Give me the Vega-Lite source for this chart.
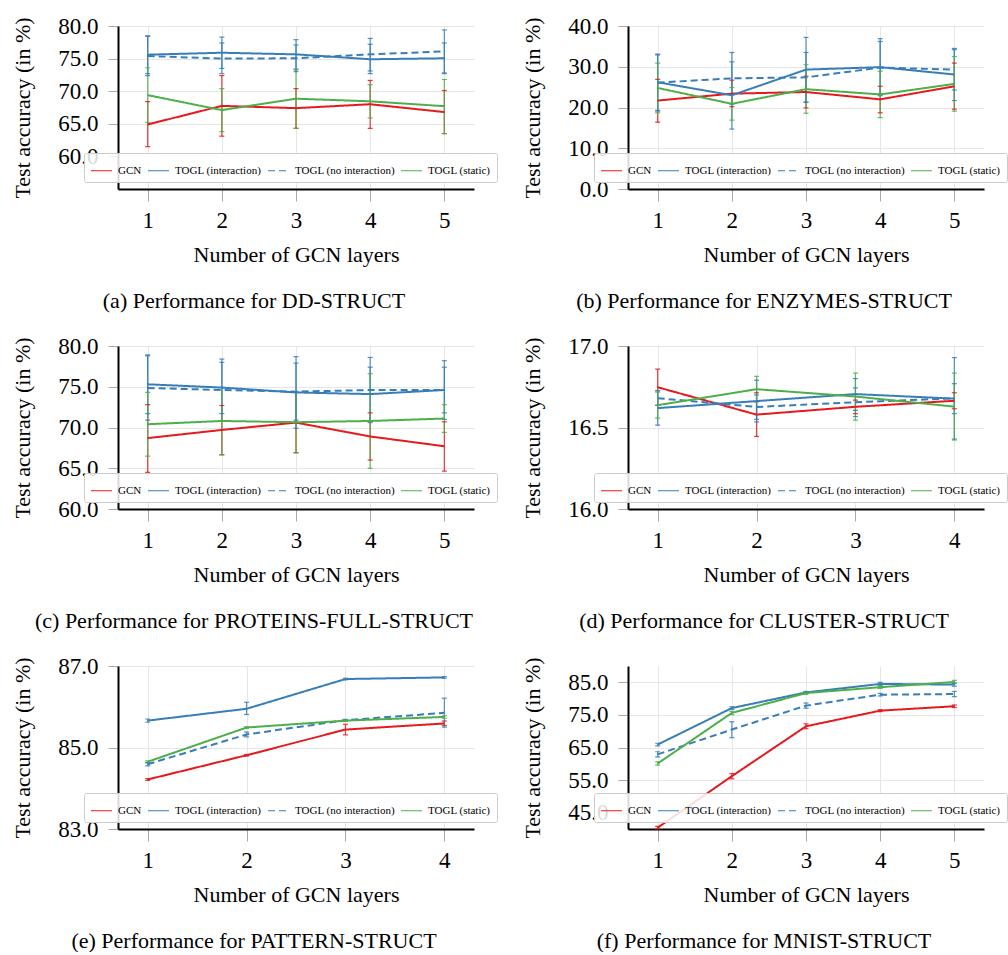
{
"$schema": "https://vega.github.io/schema/vega-lite/v6.json",
"background": "white",
"padding": {"left": 11, "top": 15, "right": 0, "bottom": 0},
"columns": 2,
"bounds": "flush",
"spacing": {"row": 157, "column": 154},
"datasets": {
"dd": [
{"n":1,"s":"GCN","m":64.9,"lo":61.5,"hi":68.4},{"n":2,"s":"GCN","m":67.75,"lo":63.1,"hi":72.4},{"n":3,"s":"GCN","m":67.4,"lo":64.3,"hi":70.4},{"n":4,"s":"GCN","m":68.0,"lo":64.3,"hi":71.65},{"n":5,"s":"GCN","m":66.8,"lo":63.5,"hi":70.1},
{"n":1,"s":"TOGL (interaction)","m":75.6,"lo":72.7,"hi":78.5},{"n":2,"s":"TOGL (interaction)","m":75.9,"lo":73.5,"hi":78.3},{"n":3,"s":"TOGL (interaction)","m":75.65,"lo":73.3,"hi":77.9},{"n":4,"s":"TOGL (interaction)","m":74.9,"lo":72.7,"hi":77.2},{"n":5,"s":"TOGL (interaction)","m":75.05,"lo":72.7,"hi":77.4},
{"n":1,"s":"TOGL (no interaction)","m":75.4,"lo":72.4,"hi":78.4},{"n":2,"s":"TOGL (no interaction)","m":75.0,"lo":72.7,"hi":77.4},{"n":3,"s":"TOGL (no interaction)","m":75.05,"lo":73.0,"hi":77.1},{"n":4,"s":"TOGL (no interaction)","m":75.65,"lo":73.1,"hi":78.1},{"n":5,"s":"TOGL (no interaction)","m":76.1,"lo":72.8,"hi":79.4},
{"n":1,"s":"TOGL (static)","m":69.4,"lo":65.2,"hi":73.6},{"n":2,"s":"TOGL (static)","m":67.1,"lo":63.8,"hi":70.4},{"n":3,"s":"TOGL (static)","m":68.85,"lo":64.3,"hi":73.4},{"n":4,"s":"TOGL (static)","m":68.45,"lo":65.9,"hi":71.0},{"n":5,"s":"TOGL (static)","m":67.7,"lo":63.5,"hi":71.8}
],
"enz": [
{"n":1,"s":"GCN","m":21.7,"lo":16.4,"hi":26.9},{"n":2,"s":"GCN","m":23.4,"lo":20.2,"hi":26.7},{"n":3,"s":"GCN","m":23.8,"lo":19.9,"hi":27.7},{"n":4,"s":"GCN","m":22.0,"lo":18.7,"hi":25.2},{"n":5,"s":"GCN","m":25.2,"lo":19.6,"hi":30.9},
{"n":1,"s":"TOGL (interaction)","m":26.2,"lo":19.3,"hi":33.1},{"n":2,"s":"TOGL (interaction)","m":23.0,"lo":14.7,"hi":31.2},{"n":3,"s":"TOGL (interaction)","m":29.3,"lo":21.3,"hi":37.2},{"n":4,"s":"TOGL (interaction)","m":29.9,"lo":22.9,"hi":36.9},{"n":5,"s":"TOGL (interaction)","m":28.1,"lo":21.7,"hi":34.5},
{"n":1,"s":"TOGL (no interaction)","m":26.1,"lo":19.1,"hi":32.9},{"n":2,"s":"TOGL (no interaction)","m":27.15,"lo":20.8,"hi":33.5},{"n":3,"s":"TOGL (no interaction)","m":27.4,"lo":21.3,"hi":33.5},{"n":4,"s":"TOGL (no interaction)","m":29.8,"lo":23.4,"hi":36.2},{"n":5,"s":"TOGL (no interaction)","m":29.3,"lo":24.3,"hi":34.2},
{"n":1,"s":"TOGL (static)","m":24.8,"lo":18.7,"hi":30.9},{"n":2,"s":"TOGL (static)","m":20.9,"lo":16.9,"hi":24.9},{"n":3,"s":"TOGL (static)","m":24.5,"lo":18.6,"hi":30.5},{"n":4,"s":"TOGL (static)","m":23.2,"lo":17.5,"hi":28.9},{"n":5,"s":"TOGL (static)","m":25.8,"lo":19.1,"hi":32.5}
],
"prot": [
{"n":1,"s":"GCN","m":68.7,"lo":64.5,"hi":72.8},{"n":2,"s":"GCN","m":69.7,"lo":66.65,"hi":72.7},{"n":3,"s":"GCN","m":70.6,"lo":66.9,"hi":74.3},{"n":4,"s":"GCN","m":68.9,"lo":66.0,"hi":71.8},{"n":5,"s":"GCN","m":67.7,"lo":64.65,"hi":70.7},
{"n":1,"s":"TOGL (interaction)","m":75.3,"lo":71.7,"hi":78.9},{"n":2,"s":"TOGL (interaction)","m":74.9,"lo":71.7,"hi":78.0},{"n":3,"s":"TOGL (interaction)","m":74.3,"lo":69.9,"hi":78.7},{"n":4,"s":"TOGL (interaction)","m":74.1,"lo":70.8,"hi":77.4},{"n":5,"s":"TOGL (interaction)","m":74.6,"lo":71.0,"hi":78.2},
{"n":1,"s":"TOGL (no interaction)","m":74.85,"lo":70.9,"hi":78.8},{"n":2,"s":"TOGL (no interaction)","m":74.6,"lo":70.8,"hi":78.4},{"n":3,"s":"TOGL (no interaction)","m":74.4,"lo":70.9,"hi":77.9},{"n":4,"s":"TOGL (no interaction)","m":74.6,"lo":70.6,"hi":78.6},{"n":5,"s":"TOGL (no interaction)","m":74.6,"lo":71.8,"hi":77.4},
{"n":1,"s":"TOGL (static)","m":70.4,"lo":66.5,"hi":74.3},{"n":2,"s":"TOGL (static)","m":70.8,"lo":66.65,"hi":74.9},{"n":3,"s":"TOGL (static)","m":70.65,"lo":66.9,"hi":74.4},{"n":4,"s":"TOGL (static)","m":70.8,"lo":65.0,"hi":76.6},{"n":5,"s":"TOGL (static)","m":71.1,"lo":69.4,"hi":72.8}
],
"clus": [
{"n":1,"s":"GCN","m":16.747,"lo":16.636,"hi":16.858},{"n":2,"s":"GCN","m":16.579,"lo":16.445,"hi":16.713},{"n":3,"s":"GCN","m":16.627,"lo":16.585,"hi":16.668},{"n":4,"s":"GCN","m":16.664,"lo":16.615,"hi":16.713},
{"n":1,"s":"TOGL (interaction)","m":16.619,"lo":16.514,"hi":16.724},{"n":2,"s":"TOGL (interaction)","m":16.662,"lo":16.534,"hi":16.79},{"n":3,"s":"TOGL (interaction)","m":16.705,"lo":16.605,"hi":16.8},{"n":4,"s":"TOGL (interaction)","m":16.677,"lo":16.585,"hi":16.769},
{"n":1,"s":"TOGL (no interaction)","m":16.68,"lo":16.636,"hi":16.727},{"n":2,"s":"TOGL (no interaction)","m":16.626,"lo":16.55,"hi":16.7},{"n":3,"s":"TOGL (no interaction)","m":16.655,"lo":16.567,"hi":16.743},{"n":4,"s":"TOGL (no interaction)","m":16.679,"lo":16.429,"hi":16.929},
{"n":1,"s":"TOGL (static)","m":16.637,"lo":16.557,"hi":16.717},{"n":2,"s":"TOGL (static)","m":16.735,"lo":16.656,"hi":16.814},{"n":3,"s":"TOGL (static)","m":16.69,"lo":16.545,"hi":16.834},{"n":4,"s":"TOGL (static)","m":16.628,"lo":16.423,"hi":16.834}
],
"patt": [
{"n":1,"s":"GCN","m":84.215,"lo":84.195,"hi":84.235},{"n":2,"s":"GCN","m":84.81,"lo":84.79,"hi":84.83},{"n":3,"s":"GCN","m":85.44,"lo":85.31,"hi":85.57},{"n":4,"s":"GCN","m":85.59,"lo":85.54,"hi":85.65},
{"n":1,"s":"TOGL (interaction)","m":85.66,"lo":85.62,"hi":85.7},{"n":2,"s":"TOGL (interaction)","m":85.95,"lo":85.81,"hi":86.11},{"n":3,"s":"TOGL (interaction)","m":86.68,"lo":86.66,"hi":86.7},{"n":4,"s":"TOGL (interaction)","m":86.72,"lo":86.7,"hi":86.74},
{"n":1,"s":"TOGL (no interaction)","m":84.59,"lo":84.55,"hi":84.63},{"n":2,"s":"TOGL (no interaction)","m":85.32,"lo":85.26,"hi":85.38},{"n":3,"s":"TOGL (no interaction)","m":85.67,"lo":85.65,"hi":85.69},{"n":4,"s":"TOGL (no interaction)","m":85.85,"lo":85.5,"hi":86.21},
{"n":1,"s":"TOGL (static)","m":84.65,"lo":84.63,"hi":84.67},{"n":2,"s":"TOGL (static)","m":85.49,"lo":85.47,"hi":85.51},{"n":3,"s":"TOGL (static)","m":85.66,"lo":85.64,"hi":85.68},{"n":4,"s":"TOGL (static)","m":85.75,"lo":85.72,"hi":85.78}
],
"mnist": [
{"n":1,"s":"GCN","m":40.4,"lo":40.0,"hi":40.8},{"n":2,"s":"GCN","m":56.2,"lo":55.4,"hi":57.0},{"n":3,"s":"GCN","m":71.5,"lo":70.75,"hi":72.25},{"n":4,"s":"GCN","m":76.3,"lo":76.0,"hi":76.6},{"n":5,"s":"GCN","m":77.65,"lo":77.25,"hi":78.05},
{"n":1,"s":"TOGL (interaction)","m":65.9,"lo":65.5,"hi":66.3},{"n":2,"s":"TOGL (interaction)","m":77.1,"lo":76.7,"hi":77.5},{"n":3,"s":"TOGL (interaction)","m":81.9,"lo":81.6,"hi":82.2},{"n":4,"s":"TOGL (interaction)","m":84.5,"lo":84.0,"hi":85.0},{"n":5,"s":"TOGL (interaction)","m":84.3,"lo":83.8,"hi":84.8},
{"n":1,"s":"TOGL (no interaction)","m":62.9,"lo":62.1,"hi":63.7},{"n":2,"s":"TOGL (no interaction)","m":70.5,"lo":68.0,"hi":72.9},{"n":3,"s":"TOGL (no interaction)","m":77.85,"lo":77.05,"hi":78.65},{"n":4,"s":"TOGL (no interaction)","m":81.2,"lo":80.8,"hi":81.6},{"n":5,"s":"TOGL (no interaction)","m":81.4,"lo":80.6,"hi":82.2},
{"n":1,"s":"TOGL (static)","m":60.1,"lo":59.6,"hi":60.6},{"n":2,"s":"TOGL (static)","m":75.6,"lo":75.1,"hi":76.1},{"n":3,"s":"TOGL (static)","m":81.7,"lo":81.3,"hi":82.1},{"n":4,"s":"TOGL (static)","m":83.5,"lo":83.1,"hi":83.9},{"n":5,"s":"TOGL (static)","m":85.1,"lo":84.6,"hi":85.6}
]
},
"concat": [
{
"width": 356, "height": 163, "data": {"name": "dd"},
"title": {"text": "(a) Performance for DD-STRUCT"},
"encoding": {
"x": {"field": "n", "type": "quantitative", "scale": {"domain": [0.6, 5.4]}, "axis": {"values": [1,2,3,4,5], "format": "d"}, "title": "Number of GCN layers"},
"color": {"field": "s", "type": "nominal", "scale": {"domain": ["GCN","TOGL (interaction)","TOGL (no interaction)","TOGL (static)"], "range": ["#e41a1c","#377eb8","#377eb8","#4daf4a"]}, "legend": {"orient": "none", "legendX": -34, "legendY": 127, "direction": "horizontal", "columns": 4, "title": null}}
},
"layer": [
{"mark": {"type": "rule"}, "encoding": {"y": {"field": "lo", "type": "quantitative", "scale": {"domain": [55, 80]}, "axis": {"values": [60,65,70,75,80], "format": ".1f"}, "title": "Test accuracy (in %)"}, "y2": {"field": "hi"}}},
{"mark": {"type": "tick", "orient": "horizontal"}, "encoding": {"y": {"field": "lo", "type": "quantitative", "scale": {"domain": [55, 80]}, "title": "Test accuracy (in %)"}}},
{"mark": {"type": "tick", "orient": "horizontal"}, "encoding": {"y": {"field": "hi", "type": "quantitative", "scale": {"domain": [55, 80]}, "title": "Test accuracy (in %)"}}},
{"mark": {"type": "line"}, "encoding": {"y": {"field": "m", "type": "quantitative", "scale": {"domain": [55, 80]}, "title": "Test accuracy (in %)"}, "strokeDash": {"field": "s", "type": "nominal", "scale": {"domain": ["GCN","TOGL (interaction)","TOGL (no interaction)","TOGL (static)"], "range": [[1,0],[1,0],[7,4],[1,0]]}, "legend": {"orient": "none", "legendX": -34, "legendY": 127, "direction": "horizontal", "columns": 4, "title": null}}}}
]
},
{
"width": 356, "height": 163, "data": {"name": "enz"},
"title": {"text": "(b) Performance for ENZYMES-STRUCT"},
"encoding": {
"x": {"field": "n", "type": "quantitative", "scale": {"domain": [0.6, 5.4]}, "axis": {"values": [1,2,3,4,5], "format": "d"}, "title": "Number of GCN layers"},
"color": {"field": "s", "type": "nominal", "scale": {"domain": ["GCN","TOGL (interaction)","TOGL (no interaction)","TOGL (static)"], "range": ["#e41a1c","#377eb8","#377eb8","#4daf4a"]}, "legend": {"orient": "none", "legendX": -34, "legendY": 127, "direction": "horizontal", "columns": 4, "title": null}}
},
"layer": [
{"mark": {"type": "rule"}, "encoding": {"y": {"field": "lo", "type": "quantitative", "scale": {"domain": [0, 40]}, "axis": {"values": [0,10,20,30,40], "format": ".1f"}, "title": "Test accuracy (in %)"}, "y2": {"field": "hi"}}},
{"mark": {"type": "tick", "orient": "horizontal"}, "encoding": {"y": {"field": "lo", "type": "quantitative", "scale": {"domain": [0, 40]}, "title": "Test accuracy (in %)"}}},
{"mark": {"type": "tick", "orient": "horizontal"}, "encoding": {"y": {"field": "hi", "type": "quantitative", "scale": {"domain": [0, 40]}, "title": "Test accuracy (in %)"}}},
{"mark": {"type": "line"}, "encoding": {"y": {"field": "m", "type": "quantitative", "scale": {"domain": [0, 40]}, "title": "Test accuracy (in %)"}, "strokeDash": {"field": "s", "type": "nominal", "scale": {"domain": ["GCN","TOGL (interaction)","TOGL (no interaction)","TOGL (static)"], "range": [[1,0],[1,0],[7,4],[1,0]]}, "legend": {"orient": "none", "legendX": -34, "legendY": 127, "direction": "horizontal", "columns": 4, "title": null}}}}
]
},
{
"width": 356, "height": 163, "data": {"name": "prot"},
"title": {"text": "(c) Performance for PROTEINS-FULL-STRUCT"},
"encoding": {
"x": {"field": "n", "type": "quantitative", "scale": {"domain": [0.6, 5.4]}, "axis": {"values": [1,2,3,4,5], "format": "d"}, "title": "Number of GCN layers"},
"color": {"field": "s", "type": "nominal", "scale": {"domain": ["GCN","TOGL (interaction)","TOGL (no interaction)","TOGL (static)"], "range": ["#e41a1c","#377eb8","#377eb8","#4daf4a"]}, "legend": {"orient": "none", "legendX": -34, "legendY": 127, "direction": "horizontal", "columns": 4, "title": null}}
},
"layer": [
{"mark": {"type": "rule"}, "encoding": {"y": {"field": "lo", "type": "quantitative", "scale": {"domain": [60, 80]}, "axis": {"values": [60,65,70,75,80], "format": ".1f"}, "title": "Test accuracy (in %)"}, "y2": {"field": "hi"}}},
{"mark": {"type": "tick", "orient": "horizontal"}, "encoding": {"y": {"field": "lo", "type": "quantitative", "scale": {"domain": [60, 80]}, "title": "Test accuracy (in %)"}}},
{"mark": {"type": "tick", "orient": "horizontal"}, "encoding": {"y": {"field": "hi", "type": "quantitative", "scale": {"domain": [60, 80]}, "title": "Test accuracy (in %)"}}},
{"mark": {"type": "line"}, "encoding": {"y": {"field": "m", "type": "quantitative", "scale": {"domain": [60, 80]}, "title": "Test accuracy (in %)"}, "strokeDash": {"field": "s", "type": "nominal", "scale": {"domain": ["GCN","TOGL (interaction)","TOGL (no interaction)","TOGL (static)"], "range": [[1,0],[1,0],[7,4],[1,0]]}, "legend": {"orient": "none", "legendX": -34, "legendY": 127, "direction": "horizontal", "columns": 4, "title": null}}}}
]
},
{
"width": 356, "height": 163, "data": {"name": "clus"},
"title": {"text": "(d) Performance for CLUSTER-STRUCT"},
"encoding": {
"x": {"field": "n", "type": "quantitative", "scale": {"domain": [0.7, 4.3]}, "axis": {"values": [1,2,3,4], "format": "d"}, "title": "Number of GCN layers"},
"color": {"field": "s", "type": "nominal", "scale": {"domain": ["GCN","TOGL (interaction)","TOGL (no interaction)","TOGL (static)"], "range": ["#e41a1c","#377eb8","#377eb8","#4daf4a"]}, "legend": {"orient": "none", "legendX": -34, "legendY": 127, "direction": "horizontal", "columns": 4, "title": null}}
},
"layer": [
{"mark": {"type": "rule"}, "encoding": {"y": {"field": "lo", "type": "quantitative", "scale": {"domain": [16, 17]}, "axis": {"values": [16,16.5,17], "format": ".1f"}, "title": "Test accuracy (in %)"}, "y2": {"field": "hi"}}},
{"mark": {"type": "tick", "orient": "horizontal"}, "encoding": {"y": {"field": "lo", "type": "quantitative", "scale": {"domain": [16, 17]}, "title": "Test accuracy (in %)"}}},
{"mark": {"type": "tick", "orient": "horizontal"}, "encoding": {"y": {"field": "hi", "type": "quantitative", "scale": {"domain": [16, 17]}, "title": "Test accuracy (in %)"}}},
{"mark": {"type": "line"}, "encoding": {"y": {"field": "m", "type": "quantitative", "scale": {"domain": [16, 17]}, "title": "Test accuracy (in %)"}, "strokeDash": {"field": "s", "type": "nominal", "scale": {"domain": ["GCN","TOGL (interaction)","TOGL (no interaction)","TOGL (static)"], "range": [[1,0],[1,0],[7,4],[1,0]]}, "legend": {"orient": "none", "legendX": -34, "legendY": 127, "direction": "horizontal", "columns": 4, "title": null}}}}
]
},
{
"width": 356, "height": 163, "data": {"name": "patt"},
"title": {"text": "(e) Performance for PATTERN-STRUCT"},
"encoding": {
"x": {"field": "n", "type": "quantitative", "scale": {"domain": [0.7, 4.3]}, "axis": {"values": [1,2,3,4], "format": "d"}, "title": "Number of GCN layers"},
"color": {"field": "s", "type": "nominal", "scale": {"domain": ["GCN","TOGL (interaction)","TOGL (no interaction)","TOGL (static)"], "range": ["#e41a1c","#377eb8","#377eb8","#4daf4a"]}, "legend": {"orient": "none", "legendX": -34, "legendY": 127, "direction": "horizontal", "columns": 4, "title": null}}
},
"layer": [
{"mark": {"type": "rule"}, "encoding": {"y": {"field": "lo", "type": "quantitative", "scale": {"domain": [83, 87]}, "axis": {"values": [83,85,87], "format": ".1f"}, "title": "Test accuracy (in %)"}, "y2": {"field": "hi"}}},
{"mark": {"type": "tick", "orient": "horizontal"}, "encoding": {"y": {"field": "lo", "type": "quantitative", "scale": {"domain": [83, 87]}, "title": "Test accuracy (in %)"}}},
{"mark": {"type": "tick", "orient": "horizontal"}, "encoding": {"y": {"field": "hi", "type": "quantitative", "scale": {"domain": [83, 87]}, "title": "Test accuracy (in %)"}}},
{"mark": {"type": "line"}, "encoding": {"y": {"field": "m", "type": "quantitative", "scale": {"domain": [83, 87]}, "title": "Test accuracy (in %)"}, "strokeDash": {"field": "s", "type": "nominal", "scale": {"domain": ["GCN","TOGL (interaction)","TOGL (no interaction)","TOGL (static)"], "range": [[1,0],[1,0],[7,4],[1,0]]}, "legend": {"orient": "none", "legendX": -34, "legendY": 127, "direction": "horizontal", "columns": 4, "title": null}}}}
]
},
{
"width": 356, "height": 163, "data": {"name": "mnist"},
"title": {"text": "(f) Performance for MNIST-STRUCT"},
"encoding": {
"x": {"field": "n", "type": "quantitative", "scale": {"domain": [0.6, 5.4]}, "axis": {"values": [1,2,3,4,5], "format": "d"}, "title": "Number of GCN layers"},
"color": {"field": "s", "type": "nominal", "scale": {"domain": ["GCN","TOGL (interaction)","TOGL (no interaction)","TOGL (static)"], "range": ["#e41a1c","#377eb8","#377eb8","#4daf4a"]}, "legend": {"orient": "none", "legendX": -34, "legendY": 127, "direction": "horizontal", "columns": 4, "title": null}}
},
"layer": [
{"mark": {"type": "rule"}, "encoding": {"y": {"field": "lo", "type": "quantitative", "scale": {"domain": [40, 90]}, "axis": {"values": [45,55,65,75,85], "format": ".1f"}, "title": "Test accuracy (in %)"}, "y2": {"field": "hi"}}},
{"mark": {"type": "tick", "orient": "horizontal"}, "encoding": {"y": {"field": "lo", "type": "quantitative", "scale": {"domain": [40, 90]}, "title": "Test accuracy (in %)"}}},
{"mark": {"type": "tick", "orient": "horizontal"}, "encoding": {"y": {"field": "hi", "type": "quantitative", "scale": {"domain": [40, 90]}, "title": "Test accuracy (in %)"}}},
{"mark": {"type": "line"}, "encoding": {"y": {"field": "m", "type": "quantitative", "scale": {"domain": [40, 90]}, "title": "Test accuracy (in %)"}, "strokeDash": {"field": "s", "type": "nominal", "scale": {"domain": ["GCN","TOGL (interaction)","TOGL (no interaction)","TOGL (static)"], "range": [[1,0],[1,0],[7,4],[1,0]]}, "legend": {"orient": "none", "legendX": -34, "legendY": 127, "direction": "horizontal", "columns": 4, "title": null}}}}
]
}
],
"resolve": {"scale": {"color": "independent", "strokeDash": "independent"}, "legend": {"color": "independent", "strokeDash": "independent"}},
"config": {
"view": {"stroke": null},
"font": "Liberation Serif",
"line": {"strokeWidth": 2},
"rule": {"strokeWidth": 1.2, "opacity": 0.85},
"tick": {"thickness": 1.2, "opacity": 0.85, "bandSize": 11},
"axis": {"domainColor": "black", "domainWidth": 2, "gridColor": "#e6e6e6", "gridWidth": 1, "tickColor": "#aaaaaa", "labelFont": "Liberation Serif", "labelFontSize": 23, "labelColor": "black", "titleFont": "Liberation Serif", "titleFontSize": 22, "titleFontWeight": "normal", "titleColor": "black", "labelFlush": false, "labelOverlap": false},
"axisX": {"tickSize": 12, "labelPadding": 8, "titlePadding": 12},
"axisY": {"tickSize": 10, "labelPadding": 10, "titlePadding": 23},
"legend": {"symbolType": "stroke", "symbolSize": 441, "symbolStrokeWidth": 2, "labelFont": "Liberation Serif", "labelFontSize": 11, "labelColor": "black", "fillColor": "rgba(255,255,255,0.85)", "strokeColor": "#cccccc", "padding": 6, "columnPadding": 3, "labelOffset": 5, "cornerRadius": 2},
"title": {"orient": "bottom", "anchor": "middle", "frame": "group", "dx": -42, "offset": 26, "font": "Liberation Serif", "fontSize": 22, "fontWeight": "normal", "color": "black"}
}
}
